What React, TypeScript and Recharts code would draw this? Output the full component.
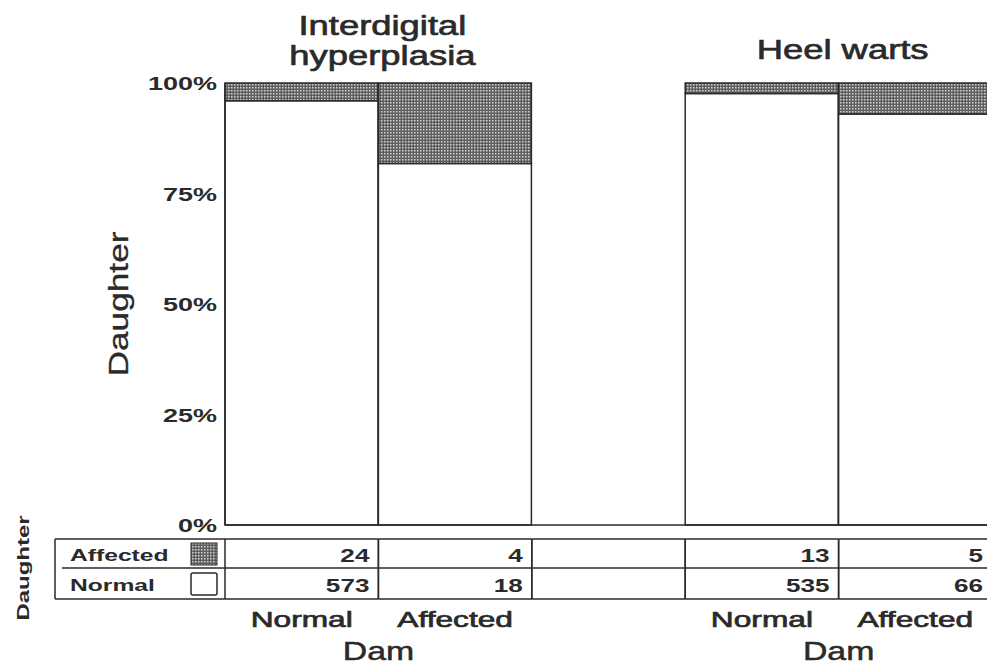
import { BarChart, Bar, XAxis, YAxis, ReferenceArea, Label } from 'recharts'

// categories along the x axis (middle slot is the blank gap between the two panels)
const categoryKeys = ['ihNormal', 'ihAffected', 'gap', 'hwNormal', 'hwAffected']
const damLabels = ['Normal', 'Affected', '', 'Normal', 'Affected']

// counts shown in the table under the bars
const affectedCounts = [24, 4, null, 13, 5]
const normalCounts = [573, 18, null, 535, 66]

// share of daughters (%)
const normalShare = [96.0, 81.8, null, 97.6, 93.0]
const affectedShare = [4.0, 18.2, null, 2.4, 7.0]

const yTicks = [0, 25, 50, 75, 100]
const yTickLabels = ['0%', '25%', '50%', '75%', '100%']

const groupTitles = [
  { from: 'ihNormal', to: 'ihAffected', lines: ['Interdigital', 'hyperplasia'] },
  { from: 'hwNormal', to: 'hwAffected', lines: ['Heel warts'] },
]

const W = 1000
const H = 668
const MARGIN = { top: 83, right: 8, bottom: 0, left: 105 }
const Y_W = 120
const X_H = 143
const BAND = (W - MARGIN.left - Y_W - MARGIN.right) / categoryKeys.length
const INK = '#2a2a2a'
const FONT = "'Liberation Sans', Arial, Helvetica, sans-serif"

const data = categoryKeys.map((key, i) => ({
  key,
  normal: normalShare[i],
  affected: affectedShare[i],
}))

function SText({ x, y, anchor = 'start', size, weight = 400, sx = 1.4, rotate = 0, heavy = 0, children }: any) {
  return (
    <text
      transform={`translate(${x},${y}) rotate(${rotate}) scale(${sx},1)`}
      textAnchor={anchor}
      fontSize={size}
      fontWeight={weight}
      fontFamily={FONT}
      fill={INK}
      stroke={heavy ? INK : 'none'}
      strokeWidth={heavy}
    >
      {children}
    </text>
  )
}

function YTick(props: any) {
  const { x, y, payload } = props
  const i = yTicks.indexOf(payload.value)
  return (
    <SText x={x} y={y + 7} anchor="end" size={19} weight={700} sx={1.42}>
      {yTickLabels[i]}
    </SText>
  )
}

function TableTick(props: any) {
  const { x, y, payload } = props
  const i = categoryKeys.indexOf(payload.value)
  const left = x - BAND / 2
  const right = x + BAND / 2
  const top = y + 14
  const mid = y + 43
  const bot = y + 74
  const line = { stroke: INK, strokeWidth: 1.5 }
  const labelLeft = left - 170

  return (
    <g>
      <line x1={left} x2={right} y1={top} y2={top} {...line} />
      <line x1={left} x2={right} y1={mid} y2={mid} {...line} />
      <line x1={left} x2={right} y1={bot} y2={bot} {...line} />
      <line x1={left} x2={left} y1={top} y2={bot} {...line} />
      <line x1={right} x2={right} y1={top} y2={bot} {...line} />

      {affectedCounts[i] != null && (
        <SText x={right - 9} y={top + 23} anchor="end" size={18} weight={700} sx={1.45}>
          {affectedCounts[i]}
        </SText>
      )}
      {normalCounts[i] != null && (
        <SText x={right - 9} y={mid + 24} anchor="end" size={18} weight={700} sx={1.45}>
          {normalCounts[i]}
        </SText>
      )}

      {damLabels[i] && (
        <SText x={x} y={y + 102} anchor="middle" size={22} sx={1.44} heavy={0.7}>
          {damLabels[i]}
        </SText>
      )}
      {(i === 0 || i === 3) && (
        <SText x={right} y={y + 135} anchor="middle" size={26} sx={1.3} heavy={0.5}>
          Dam
        </SText>
      )}

      {i === 0 && (
        <g>
          <line x1={labelLeft} x2={left} y1={top} y2={top} {...line} />
          <line x1={labelLeft + 7} x2={left} y1={mid} y2={mid} {...line} />
          <line x1={labelLeft} x2={left} y1={bot} y2={bot} {...line} />
          <line x1={labelLeft} x2={labelLeft} y1={top} y2={bot} {...line} />
          <SText x={labelLeft + 15} y={top + 22} size={17} weight={700} sx={1.45}>
            Affected
          </SText>
          <rect x={left - 34} y={top + 4} width={26} height={22} fill="url(#hatch)" stroke={INK} strokeWidth={1} />
          <SText x={labelLeft + 15} y={mid + 23} size={17} weight={700} sx={1.45}>
            Normal
          </SText>
          <rect x={left - 34} y={mid + 5} width={26} height={22} rx={2} fill="#fff" stroke={INK} strokeWidth={1.5} />
          <SText x={labelLeft - 26} y={y + 43} anchor="middle" size={16} weight={700} sx={1.5} rotate={-90}>
            Daughter
          </SText>
        </g>
      )}
    </g>
  )
}

function titleContent(lines: string[]) {
  return (p: any) => {
    const vb = p.viewBox || {}
    const cx = vb.x + vb.width / 2 + 4
    const last = vb.y - (lines.length > 1 ? 18 : 24)
    return (
      <g>
        {lines.map((t, k) => (
          <SText key={t} x={cx} y={last - (lines.length - 1 - k) * 30} anchor="middle" size={28} sx={1.3} heavy={0.7}>
            {t}
          </SText>
        ))}
      </g>
    )
  }
}

function DaughterLabel(p: any) {
  const vb = p.viewBox || {}
  return (
    <SText x={vb.x + 23} y={vb.y + vb.height / 2} anchor="middle" size={28} sx={1.26} rotate={-90} heavy={0.3}>
      Daughter
    </SText>
  )
}

export default function App() {
  return (
    <div style={{ position: 'absolute', left: 0, top: 0, width: 987, height: 668, overflow: 'hidden', background: '#fff' }}>
      <BarChart width={W} height={H} data={data} margin={MARGIN} barCategoryGap={0} barGap={0}>
        <defs>
          <pattern id="hatch" width={3} height={3} patternUnits="userSpaceOnUse">
            <rect width={3} height={3} fill="#5e5e5e" />
            <rect x={0} y={0} width={1.5} height={1.5} fill="#d4d4d4" />
          </pattern>
        </defs>
        <XAxis
          dataKey="key"
          height={X_H}
          interval={0}
          tickLine={false}
          tickSize={0}
          tickMargin={0}
          axisLine={{ stroke: INK, strokeWidth: 1.5 }}
          tick={<TableTick />}
        />
        <YAxis
          width={Y_W}
          domain={[0, 100]}
          ticks={yTicks}
          interval={0}
          tickLine={false}
          tickSize={0}
          tickMargin={8}
          axisLine={{ stroke: INK, strokeWidth: 1.5 }}
          tick={<YTick />}
        >
          <Label content={DaughterLabel} />
        </YAxis>
        {groupTitles.map((g) => (
          <ReferenceArea
            key={g.from}
            x1={g.from}
            x2={g.to}
            fill="none"
            fillOpacity={0}
            stroke="none"
            ifOverflow="visible"
            label={titleContent(g.lines)}
          />
        ))}
        <Bar dataKey="normal" stackId="a" fill="#fff" stroke={INK} strokeWidth={1.5} isAnimationActive={false} />
        <Bar dataKey="affected" stackId="a" fill="url(#hatch)" stroke={INK} strokeWidth={1.5} isAnimationActive={false} />
      </BarChart>
    </div>
  )
}
